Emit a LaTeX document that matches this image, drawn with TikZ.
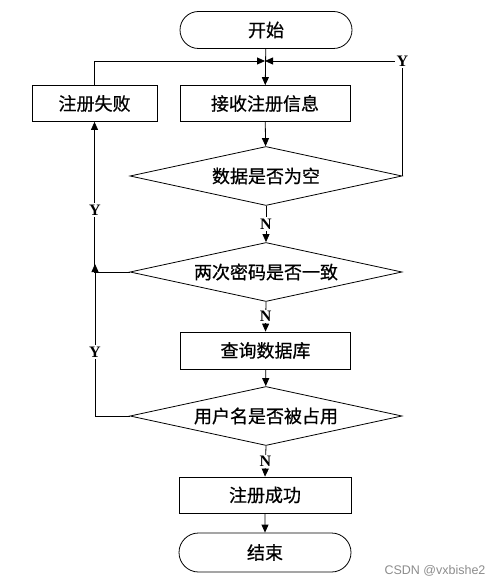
\documentclass[tikz,border=0pt]{standalone}
\usepackage{fontspec}
\setmainfont{Liberation Serif}
\newfontfamily\cjk[FakeBold=0.6]{Noto Sans CJK SC}
\newfontfamily\wmfont{Liberation Sans}
\usetikzlibrary{shapes.geometric,shapes.misc,arrows.meta}
\begin{document}
\begin{tikzpicture}[x=1pt,y=-1pt,line width=0.8pt,
  cjkfont/.style={font=\cjk\fontsize{18}{18}\selectfont},
  proc/.style={draw,rectangle,minimum height=36pt,inner sep=0pt,cjkfont},
  term/.style={draw,rounded rectangle,minimum width=172pt,minimum height=37pt,inner sep=0pt,cjkfont},
  dec/.style={draw,diamond,aspect=4.6,minimum width=272pt,minimum height=59pt,inner sep=0pt,cjkfont},
  lab/.style={fill=white,inner sep=1.5pt,font=\bfseries\fontsize{16}{16}\selectfont},
  arr/.style={-{Triangle[length=8pt,width=7pt]}}]
\useasboundingbox (0,0) rectangle (502,585);

\node[term] (start) at (266,30) {开始};
\node[proc,minimum width=170pt] (recv) at (265,103.5) {接收注册信息};
\node[proc,minimum width=125pt] (fail) at (94.5,103.5) {注册失败};
\node[dec] (d1) at (266,176) {数据是否为空};
\node[dec] (d2) at (266,272) {两次密码是否一致};
\node[proc,minimum width=170pt,minimum height=37pt] (query) at (265.5,350.5) {查询数据库};
\node[dec] (d3) at (266,416) {用户名是否被占用};
\node[proc,minimum width=172pt] (succ) at (265,495) {注册成功};
\node[term,minimum height=39pt] (end) at (265,552.5) {结束};

\coordinate (jn) at (265,61);
\coordinate (mj) at (95,264);

\draw[arr] (start) -- (recv);
\draw[arr] (fail.north) |- (jn);
\draw[arr] (d1.east) |- node[lab] (yr) {Y} (jn);
\draw[arr] (recv) -- (d1);
\draw[arr] (d1.south) -- node[lab] (n1) {N} (d2.north);
\draw[arr] (d2.south) -- node[lab] (n2) {N} (query.north);
\draw[arr] (query) -- (d3);
\draw[arr] (d3.south) -- node[lab] (n3) {N} (succ.north);
\draw[arr] (succ) -- (end);
\draw[arr] (d2.west) -| (fail.south);
\draw[arr] (d3.west) -| (mj);
\node[lab] (y1) at (95,210) {Y};
\node[lab] (y2) at (95,352) {Y};

\node[font=\wmfont\fontsize{12.5}{12.5}\selectfont,text=black!45] (wm) at (435,571) {CSDN @vxbishe2};
\end{tikzpicture}
\end{document}
